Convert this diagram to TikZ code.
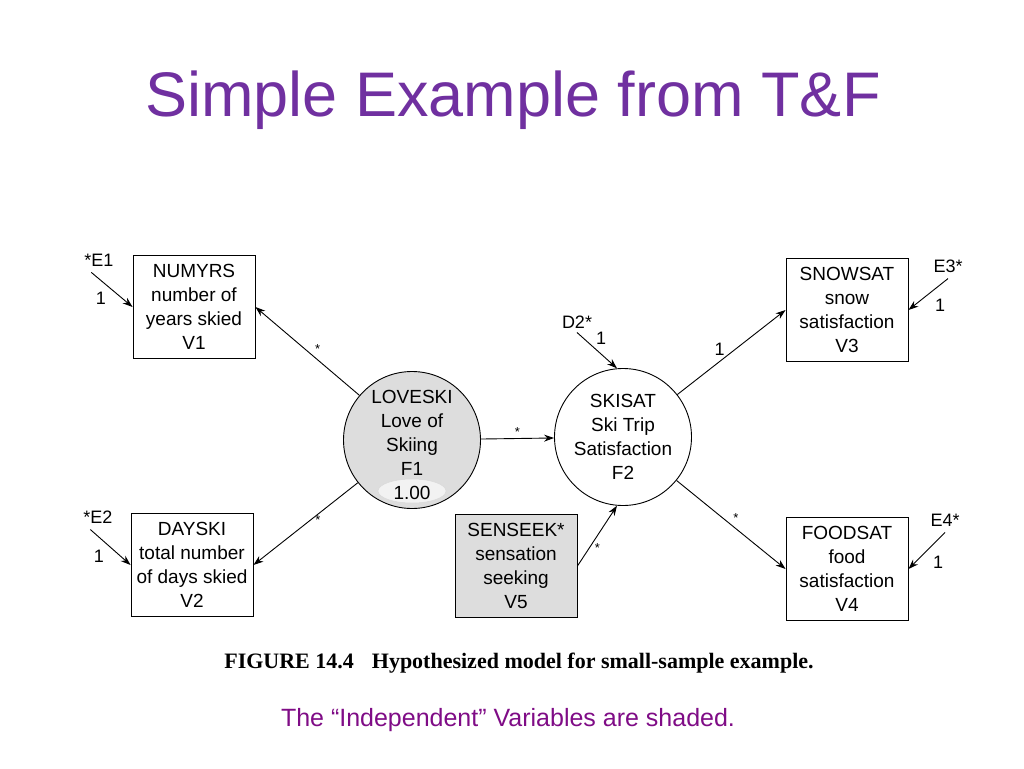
\documentclass[tikz,border=0pt]{standalone}
\usepackage{fontspec}
\setmainfont{Liberation Sans}
\newfontfamily\figfont{Liberation Serif}
\usetikzlibrary{arrows.meta, positioning}
\definecolor{titlepurple}{HTML}{7030A0}
\definecolor{notepurple}{HTML}{7F0C86}
\definecolor{shade}{HTML}{DDDDDD}

\begin{document}
\begin{tikzpicture}[
  x=1pt, y=-1pt,
  var/.style={rectangle, draw=black, line width=0.9pt, minimum width=122pt,
              minimum height=103pt, align=center, inner sep=2pt,
              font=\fontsize{19}{24}\selectfont},
  indvar/.style={var, fill=shade},
  factor/.style={circle, draw=black, line width=0.9pt, minimum size=137pt,
                 inner sep=0pt, align=center, font=\fontsize{19}{24}\selectfont},
  err/.style={font=\fontsize{18}{20}\selectfont, inner sep=1pt},
  coef/.style={font=\fontsize{13}{13}\selectfont, inner sep=2pt},
  arrow/.style={-{Stealth[length=10pt, width=7pt]}, line width=0.9pt}
]
  \useasboundingbox (0,0) rectangle (1024,768);

  \node[font=\fontsize{63}{63}\selectfont, text=titlepurple] (title) at (513,100) {Simple Example from T\&F};

  % factors
  \node[factor, fill=shade,
        path picture={\draw[gray!30, fill=gray!10, line width=0.5pt]
          ([yshift=-51pt]path picture bounding box.center) ellipse [x radius=34pt, y radius=12pt];},
        label={[align=center, font=\fontsize{19}{24}\selectfont, yshift=-5pt]center:LOVESKI\\Love of\\Skiing\\F1\\1.00}]
        (loveski) at (412,440) {};
  \node[factor] (skisat) at (623,437) {SKISAT\\Ski Trip\\Satisfaction\\F2};

  % measured variables
  \node[var] (numyrs) at (194,307) {NUMYRS\\number of\\years skied\\V1};
  \node[var] (dayski) at (192,565) {DAYSKI\\total number\\of days skied\\V2};
  \node[var] (snowsat) at (847,310) {SNOWSAT\\snow\\satisfaction\\V3};
  \node[var] (foodsat) at (847,569) {FOODSAT\\food\\satisfaction\\V4};
  \node[indvar] (senseek) at (516,566) {SENSEEK*\\sensation\\seeking\\V5};

  % errors and disturbance
  \node[err] (e1) at (99,260) {*E1};
  \node[err] (e2) at (98,517) {*E2};
  \node[err] (e3) at (948,266) {E3*};
  \node[err] (e4) at (945,520) {E4*};
  \node[err] (d2) at (577,322) {D2*};
  \node[err] (w1) at (101,298) {1};
  \node[err] (w2) at (99,556) {1};
  \node[err] (w3) at (940,305) {1};
  \node[err] (w4) at (938,562) {1};
  \node[err] (wd2) at (601,338) {1};

  \draw[arrow] ([xshift=8pt,yshift=-5pt]e1.south west) -- (numyrs.west);
  \draw[arrow] ([xshift=8pt,yshift=-5pt]e2.south west) -- (dayski.west);
  \draw[arrow] ([yshift=-5pt]e3.south) -- (snowsat.east);
  \draw[arrow] ([yshift=-5pt]e4.south) -- (foodsat.east);
  \draw[arrow] ([yshift=-3pt]d2.south) -- (skisat.95);

  % paths
  \draw[arrow] (loveski) -- node[coef, pos=.45, above right] {*} (numyrs.east);
  \draw[arrow] (loveski) -- node[coef, pos=.45, right=2pt] {*} (dayski.east);
  \draw[arrow] (loveski) -- node[coef, above] {*} (skisat);
  \draw[arrow] (skisat) -- node[err, pos=.45, above left] {1} (snowsat.west);
  \draw[arrow] (skisat) -- node[coef, pos=.5, above right] {*} (foodsat.west);
  \draw[arrow] (senseek.east) -- node[coef, pos=.3, right=3pt] {*} (skisat.265);

  \node[font=\figfont\bfseries\fontsize{22}{22}\selectfont] (caption) at (519,663)
    {FIGURE 14.4\hspace{18pt}Hypothesized model for small-sample example.};
  \node[font=\fontsize{25}{25}\selectfont, text=notepurple] (note) at (508,720)
    {The “Independent” Variables are shaded.};
\end{tikzpicture}
\end{document}
